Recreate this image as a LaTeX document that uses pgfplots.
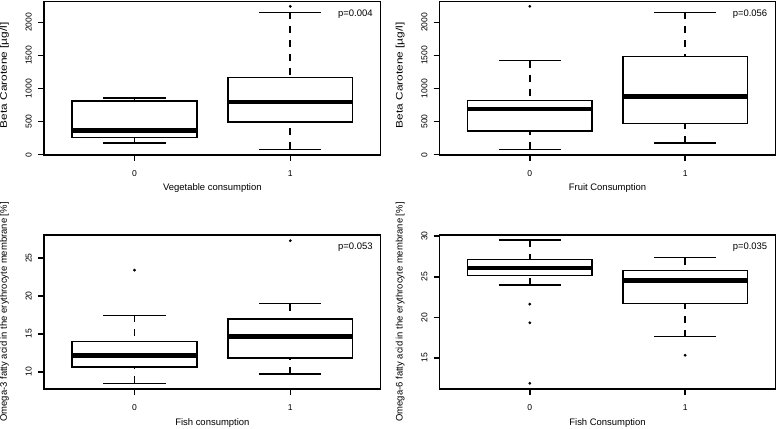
\documentclass[border=0pt]{standalone}
\usepackage{pgfplots}
\pgfplotsset{compat=1.18}
\usepackage{fontspec}
\setmainfont{Liberation Sans}
\newfontfamily\stretchfont{Liberation Sans}[FakeStretch=1.25]
\pgfplotsset{
  rbox/.style={
    scale only axis,
    xmin=-0.58, xmax=1.58,
    xtick={0,1}, xticklabels={0,1},
    tick pos=left, tick align=outside,
    major tick length=6bp,
    axis line style={line width=1.5bp, black},
    every tick/.style={line width=1.5bp, black},
    /pgf/number format/assume math mode=true,
    /pgf/number format/1000 sep={},
    scaled y ticks=false,
    ticklabel style={font=\fontsize{8.6}{10}\selectfont},
    yticklabel style={xshift=-6.3bp, rotate=90, anchor=base, inner sep=0pt},
    xticklabel style={anchor=base, inner sep=0pt, yshift=-15.7bp},
    every axis y label/.style={at={(axis description cs:0,0.5)}, xshift=-37bp, rotate=90, anchor=base},
    every axis x label/.style={at={(axis description cs:0.5,0)}, yshift=-36bp, anchor=base},
  },
  toplabel/.style={every axis y label/.style={at={(axis description cs:0,0.5)}, xshift=-37bp, yshift=3bp, rotate=90, anchor=base, font=\stretchfont\fontsize{9.5}{11}\selectfont}},
  bx/.style={black, solid, line width=1.6bp, mark=none, line join=miter},
  md/.style={black, solid, line width=4.3bp, mark=none},
  wh/.style={black, line width=1.6bp, mark=none, dash pattern=on 7bp off 7bp},
  cp/.style={black, solid, line width=1.6bp, mark=none},
  ol/.style={black, only marks, mark=*, mark size=1.2bp},
}
\begin{document}
\fontsize{9.5}{11}\selectfont
\begin{tikzpicture}[font=\fontsize{9.5}{11}\selectfont]
\useasboundingbox (0,0) rectangle (778bp,429bp);
% Panel 1
\begin{axis}[rbox, toplabel, at={(44bp,274bp)}, width=336.7bp, height=153.3bp,
  ymin=-5, ymax=2312, ytick={0,500,1000,1500,2000},
  ylabel={Beta Carotene [µg/l]}, xlabel={Vegetable consumption}]
% group 0
\addplot[wh] coordinates {(0,176) (0,262)};
\addplot[wh] coordinates {(0,856) (0,811)};
\addplot[cp] coordinates {(-0.2,176) (0.2,176)};
\addplot[cp] coordinates {(-0.2,856) (0.2,856)};
\addplot[bx] coordinates {(-0.4,262) (0.4,262) (0.4,811) (-0.4,811) (-0.4,262) (0.4,262)};
\addplot[md] coordinates {(-0.4,363) (0.4,363)};
% group 1
\addplot[wh] coordinates {(1,81) (1,494)};
\addplot[wh] coordinates {(1,2151) (1,1169)};
\addplot[cp] coordinates {(0.8,81) (1.2,81)};
\addplot[cp] coordinates {(0.8,2151) (1.2,2151)};
\addplot[bx] coordinates {(0.6,494) (1.4,494) (1.4,1169) (0.6,1169) (0.6,494) (1.4,494)};
\addplot[md] coordinates {(0.6,801) (1.4,801)};
\addplot[ol] coordinates {(1,2242)};
\node[anchor=base east, xshift=-4.7bp, yshift=-15bp] at (axis description cs:1,1) {p=0.004};
\end{axis}
% Panel 2
\begin{axis}[rbox, toplabel, at={(439.7bp,274bp)}, width=335.6bp, height=153.3bp,
  ymin=-5, ymax=2312, ytick={0,500,1000,1500,2000},
  ylabel={Beta Carotene [µg/l]}, xlabel={Fruit Consumption}]
% group 0
\addplot[wh] coordinates {(0,81) (0,358)};
\addplot[wh] coordinates {(0,1421) (0,821)};
\addplot[cp] coordinates {(-0.2,81) (0.2,81)};
\addplot[cp] coordinates {(-0.2,1421) (0.2,1421)};
\addplot[bx] coordinates {(-0.4,358) (0.4,358) (0.4,821) (-0.4,821) (-0.4,358) (0.4,358)};
\addplot[md] coordinates {(-0.4,690) (0.4,690)};
\addplot[ol] coordinates {(0,2242)};
% group 1
\addplot[wh] coordinates {(1,176) (1,469)};
\addplot[wh] coordinates {(1,2151) (1,1481)};
\addplot[cp] coordinates {(0.8,176) (1.2,176)};
\addplot[cp] coordinates {(0.8,2151) (1.2,2151)};
\addplot[bx] coordinates {(0.6,469) (1.4,469) (1.4,1481) (0.6,1481) (0.6,469) (1.4,469)};
\addplot[md] coordinates {(0.6,877) (1.4,877)};
\node[anchor=base east, xshift=-4.7bp, yshift=-15bp] at (axis description cs:1,1) {p=0.056};
\end{axis}
% Panel 3
\begin{axis}[rbox, at={(44bp,40bp)}, width=336.7bp, height=154bp,
  ymin=7.75, ymax=28.04, ytick={10,15,20,25},
  ylabel={Omega-3 fatty acid in the erythrocyte membrane [\%]}, xlabel={Fish consumption}]
% group 0
\addplot[wh] coordinates {(0,8.50) (0,10.62)};
\addplot[wh] coordinates {(0,17.45) (0,14.01)};
\addplot[cp] coordinates {(-0.2,8.50) (0.2,8.50)};
\addplot[cp] coordinates {(-0.2,17.45) (0.2,17.45)};
\addplot[bx] coordinates {(-0.4,10.62) (0.4,10.62) (0.4,14.01) (-0.4,14.01) (-0.4,10.62) (0.4,10.62)};
\addplot[md] coordinates {(-0.4,12.16) (0.4,12.16)};
\addplot[ol] coordinates {(0,23.41)};
% group 1
\addplot[wh] coordinates {(1,9.74) (1,11.85)};
\addplot[wh] coordinates {(1,19.0) (1,17.01)};
\addplot[cp] coordinates {(0.8,9.74) (1.2,9.74)};
\addplot[cp] coordinates {(0.8,19.0) (1.2,19.0)};
\addplot[bx] coordinates {(0.6,11.85) (1.4,11.85) (1.4,17.01) (0.6,17.01) (0.6,11.85) (1.4,11.85)};
\addplot[md] coordinates {(0.6,14.68) (1.4,14.68)};
\addplot[ol] coordinates {(1,27.29)};
\node[anchor=base east, xshift=-4.7bp, yshift=-15bp] at (axis description cs:1,1) {p=0.053};
\end{axis}
% Panel 4
\begin{axis}[rbox, at={(439.7bp,40bp)}, width=335.6bp, height=154bp,
  ymin=11.17, ymax=30.15, ytick={15,20,25,30},
  ylabel={Omega-6 fatty acid in the erythrocyte membrane [\%]}, xlabel={Fish Consumption}]
% group 0
\addplot[wh] coordinates {(0,24.02) (0,25.18)};
\addplot[wh] coordinates {(0,29.50) (0,27.15)};
\addplot[cp] coordinates {(-0.2,24.02) (0.2,24.02)};
\addplot[cp] coordinates {(-0.2,29.50) (0.2,29.50)};
\addplot[bx] coordinates {(-0.4,25.18) (0.4,25.18) (0.4,27.15) (-0.4,27.15) (-0.4,25.18) (0.4,25.18)};
\addplot[md] coordinates {(-0.4,26.12) (0.4,26.12)};
\addplot[ol] coordinates {(0,21.63) (0,19.33) (0,11.87)};
% group 1
\addplot[wh] coordinates {(1,17.64) (1,21.72)};
\addplot[wh] coordinates {(1,27.36) (1,25.75)};
\addplot[cp] coordinates {(0.8,17.64) (1.2,17.64)};
\addplot[cp] coordinates {(0.8,27.36) (1.2,27.36)};
\addplot[bx] coordinates {(0.6,21.72) (1.4,21.72) (1.4,25.75) (0.6,25.75) (0.6,21.72) (1.4,21.72)};
\addplot[md] coordinates {(0.6,24.56) (1.4,24.56)};
\addplot[ol] coordinates {(1,15.33)};
\node[anchor=base east, xshift=-4.7bp, yshift=-15bp] at (axis description cs:1,1) {p=0.035};
\end{axis}
\end{tikzpicture}
\end{document}
